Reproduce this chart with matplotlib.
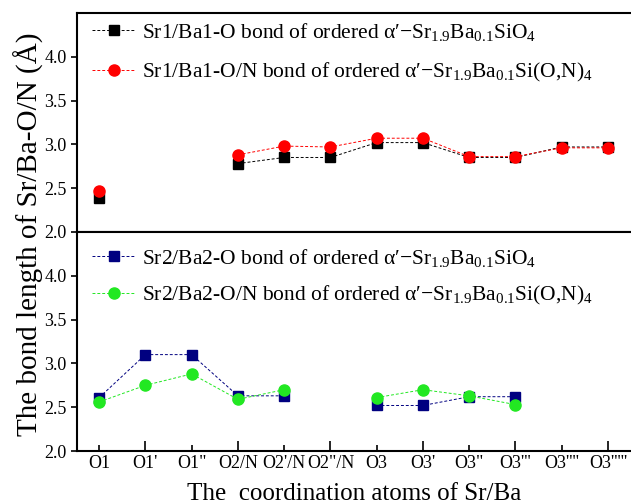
import numpy as np
import matplotlib
matplotlib.use("Agg")
import matplotlib.pyplot as plt

plt.rcParams['font.family'] = ['Liberation Serif', 'DejaVu Serif']
plt.rcParams['mathtext.fontset'] = 'custom'
plt.rcParams['mathtext.rm'] = 'Liberation Serif'
plt.rcParams['mathtext.it'] = 'Liberation Serif:italic'

labels = ["O1", "O1'", "O1\"", "O2/N", "O2'/N", "O2\"/N", "O3", "O3'",
          "O3\"", "O3'''", "O3''''", "O3'''''"]
nan = np.nan

# Sr1/Ba1 site
sr1_o = [2.39, nan, nan, 2.78, 2.85, 2.85, 3.02, 3.02, 2.85, 2.85, 2.97, 2.97]
sr1_on = [2.47, nan, nan, 2.88, 2.98, 2.97, 3.07, 3.07, 2.86, 2.86, 2.96, 2.96]
# Sr2/Ba2 site
sr2_o = [2.61, 3.10, 3.10, 2.63, 2.63, nan, 2.52, 2.52, 2.62, 2.62, nan, nan]
sr2_on = [2.56, 2.75, 2.88, 2.59, 2.70, nan, 2.61, 2.70, 2.63, 2.53, nan, nan]

lab_o = "Sr%s/Ba%s-O bond of ordered α′−Sr$_{1.9}$Ba$_{0.1}$SiO$_4$"
lab_on = "Sr%s/Ba%s-O/N bond of ordered α′−Sr$_{1.9}$Ba$_{0.1}$Si(O,N)$_4$"

fig = plt.figure(figsize=(6.31, 5.04), dpi=100)
ax1 = fig.add_axes([0.122, 0.540, 0.878, 0.434])
ax2 = fig.add_axes([0.122, 0.105, 0.878, 0.435])

x = np.arange(len(labels))
dash = (0, (3, 2))

ax1.plot(x, sr1_o, color='black', ls=dash, lw=0.7, marker='s', ms=6.5,
         label=lab_o % ('1', '1'))
ax1.plot(x, sr1_on, color='red', ls=dash, lw=0.7, marker='o', ms=8,
         label=lab_on % ('1', '1'))
ax2.plot(x, sr2_o, color='#000080', ls=dash, lw=0.7, marker='s', ms=6.5,
         label=lab_o % ('2', '2'))
ax2.plot(x, sr2_on, color='#22e822', ls=dash, lw=0.7, marker='o', ms=8,
         label=lab_on % ('2', '2'))

for ax, top, sp in ((ax1, 1.035, 0.85), (ax2, 1.0, 0.7)):
    ax.set_xlim(-0.48, 11.5)
    ax.set_ylim(2.0, 4.5)
    ax.set_yticks([2.0, 2.5, 3.0, 3.5, 4.0])
    ax.set_yticklabels(["2.0", "2.5", "3.0", "3.5", "4.0"])
    ax.tick_params(axis='y', direction='out', length=4, width=1.2, labelsize=13)
    ax.spines['right'].set_visible(False)
    for s in ('left', 'top', 'bottom'):
        ax.spines[s].set_linewidth(1.5)
    ax.legend(loc='upper left', frameon=False, fontsize=15.5, handlelength=2.0,
              handletextpad=0.3, borderaxespad=0.3, labelspacing=sp,
              bbox_to_anchor=(0.0, top))

ax1.set_xticks(x)
ax1.tick_params(axis='x', bottom=False, labelbottom=False)

ax2.set_xticks(x)
ax2.set_xticklabels(labels)
ax2.tick_params(axis='x', direction='in', width=1.2, labelsize=13, pad=3)
for i, t in enumerate(ax2.xaxis.get_major_ticks()):
    t.tick1line.set_markersize(7 if i % 2 else 4)

ax2.set_xlabel("The  coordination atoms of Sr/Ba", fontsize=18, labelpad=8)
fig.text(0.045, 0.535, "The bond length of Sr/Ba-O/N (Å)", rotation=90,
         ha='center', va='center', fontsize=21)

fig.savefig("out.png", dpi=100)
